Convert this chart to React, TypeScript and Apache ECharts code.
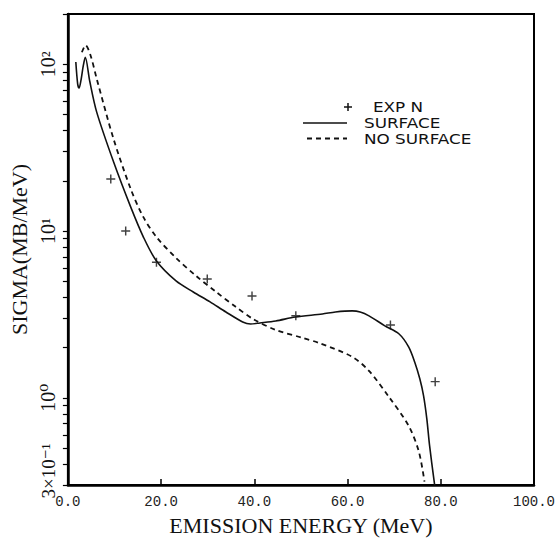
import React, { useEffect, useRef } from "react";
import * as echarts from "echarts";

// SURFACE curve (solid)
const surfaceE = [1.7, 2.1, 2.4, 2.8, 3.3, 3.73, 4.69, 6.18, 9.81, 13.4, 16.2, 19.0, 23.2, 26.9, 30.5, 33.9, 37.5, 39.2, 41.2, 44.6, 48.8, 54.6, 57.4, 61.0, 62.7, 64.6, 68.0, 71.0, 73.1, 74.4, 75.5, 76.3, 77.0, 77.6, 78.7];
const surfaceV = [103, 76, 72, 80, 98, 110, 79, 51.6, 25.9, 14.1, 9.2, 6.61, 5.02, 4.31, 3.76, 3.27, 2.85, 2.77, 2.81, 2.89, 3.05, 3.18, 3.27, 3.32, 3.27, 3.1, 2.7, 2.42, 2.02, 1.64, 1.3, 1.03, 0.75, 0.516, 0.297];

// NO SURFACE curve (dashed)
const noSurfaceE = [3.0, 3.8, 4.9, 6.2, 9.8, 13.5, 16.2, 19.0, 23.2, 27.5, 31.8, 36.0, 39.7, 44.6, 50.3, 53.9, 61.0, 64.6, 68.9, 73.1, 75.3, 76.5];
const noSurfaceV = [118, 130, 112, 81.4, 35.6, 17.8, 12.1, 9.2, 6.89, 5.38, 4.31, 3.51, 2.97, 2.55, 2.29, 2.13, 1.76, 1.45, 1.01, 0.68, 0.475, 0.314];

// EXP N points
const expE = [9.2, 12.4, 19, 29.9, 39.5, 48.9, 69.2, 78.8];
const expV = [20.5, 10, 6.5, 5.16, 4.08, 3.1, 2.73, 1.25];

const xTickValues = [0, 20, 40, 60, 80, 100];
const yLabelValues = [0.3, 1, 10, 100];
const yLabelTexts = ["3×10⁻¹", "10⁰", "10¹", "10²"];
const yTickValues = [
  0.3, 0.4, 0.5, 0.6, 0.7, 0.8, 0.9,
  1, 2, 3, 4, 5, 6, 7, 8, 9,
  10, 20, 30, 40, 50, 60, 70, 80, 90,
  100, 200,
];

const SERIF = "'Liberation Serif', 'DejaVu Serif', serif";
const LEGEND_FONT = "14px 'DejaVu Sans', sans-serif";
const PLUS = "path://M4.2,0H5.8V4.2H10V5.8H5.8V10H4.2V5.8H0V4.2H4.2Z";

export default function App() {
  const ref = useRef<HTMLDivElement>(null);
  useEffect(() => {
    if (!ref.current) return;
    const chart = echarts.init(ref.current, undefined, { renderer: "svg" });
    const zip = (a: number[], b: number[]) => a.map((x, i) => [x, b[i]]);
    const lbl = (v: number) => {
      for (let i = 0; i < yLabelValues.length; i++) {
        if (Math.abs(Math.log10(v) - Math.log10(yLabelValues[i])) < 0.01) {
          return i === 0 ? `{low|${yLabelTexts[i]}}` : `{n|${yLabelTexts[i]}}`;
        }
      }
      return "";
    };
    const legendText = (x: number, y: number, text: string) => ({
      type: "text",
      x,
      y,
      scaleX: 1.2,
      style: { text, font: LEGEND_FONT, fill: "#111", verticalAlign: "middle", lineHeight: 14 },
    });
    chart.setOption({
      animation: false,
      backgroundColor: "#fff",
      grid: { left: 64, right: 25, top: 14, bottom: 53, show: true, borderColor: "#000", borderWidth: 2 },
      xAxis: {
        type: "value",
        min: 0,
        max: 100,
        interval: 20,
        axisLine: { show: true, lineStyle: { color: "#000", width: 2.5 } },
        axisTick: { show: true, inside: true, length: 6, customValues: xTickValues, lineStyle: { color: "#000", width: 1.5 } },
        axisLabel: { formatter: (v: number) => v.toFixed(1), fontFamily: "'Liberation Mono', monospace", fontSize: 14, color: "#222", margin: 10 },
        splitLine: { show: false },
        name: "EMISSION ENERGY (MeV)",
        nameLocation: "middle",
        nameGap: 29,
        nameTextStyle: { fontFamily: SERIF, fontSize: 22, color: "#111" },
      },
      yAxis: {
        type: "log",
        logBase: 10,
        min: 0.3,
        max: 200,
        axisLine: { show: true, lineStyle: { color: "#000", width: 2.5 } },
        axisTick: { show: true, inside: false, length: 5, customValues: yTickValues, lineStyle: { color: "#000", width: 1.2 } },
        axisLabel: {
          customValues: yLabelValues,
          formatter: lbl,
          rotate: 90,
          fontFamily: SERIF,
          fontSize: 20,
          color: "#111",
          margin: 10,
          rich: {
            n: { fontFamily: SERIF, fontSize: 20, color: "#111" },
            low: { fontFamily: SERIF, fontSize: 19, color: "#111", padding: [0, 0, 0, 28] },
          },
        },
        splitLine: { show: false },
        minorTick: { show: false },
        name: "SIGMA(MB/MeV)",
        nameLocation: "middle",
        nameGap: 33,
        nameTextStyle: { fontFamily: SERIF, fontSize: 22, color: "#111" },
      },
      series: [
        {
          name: "SURFACE",
          type: "line",
          data: zip(surfaceE, surfaceV),
          showSymbol: false,
          smooth: 0.3,
          lineStyle: { color: "#111", width: 1.6 },
        },
        {
          name: "NO SURFACE",
          type: "line",
          data: zip(noSurfaceE, noSurfaceV),
          showSymbol: false,
          smooth: 0.3,
          lineStyle: { color: "#111", width: 1.8, type: [5, 4] },
        },
        {
          name: "EXP N",
          type: "scatter",
          data: zip(expE, expV),
          symbol: PLUS,
          symbolSize: 9,
          itemStyle: { color: "#111" },
        },
      ],
      graphic: [
        { type: "line", shape: { x1: 344, y1: 107, x2: 352, y2: 107 }, style: { stroke: "#111", lineWidth: 1.5 } },
        { type: "line", shape: { x1: 348, y1: 103, x2: 348, y2: 111 }, style: { stroke: "#111", lineWidth: 1.5 } },
        legendText(373, 107, "EXP N"),
        { type: "line", shape: { x1: 303, y1: 123, x2: 347, y2: 123 }, style: { stroke: "#111", lineWidth: 1.6 } },
        legendText(364, 123, "SURFACE"),
        { type: "line", shape: { x1: 307, y1: 138.5, x2: 347, y2: 138.5 }, style: { stroke: "#111", lineWidth: 1.8, lineDash: [5, 4] } },
        legendText(364, 139, "NO SURFACE"),
      ],
    });
    return () => chart.dispose();
  }, []);
  return <div ref={ref} style={{ position: "absolute", left: 0, top: 0, width: 559, height: 541 }} />;
}
